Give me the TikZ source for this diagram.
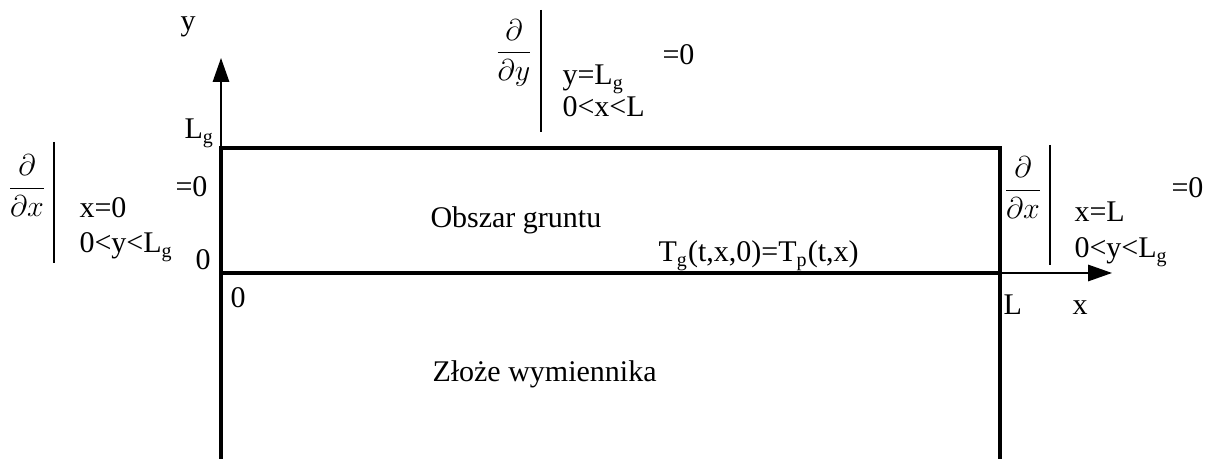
\documentclass[tikz,border=0pt]{standalone}
\usepackage{fontspec}
\setmainfont{Liberation Serif}
\usepackage{tikz}
\usetikzlibrary{arrows.meta}

\begin{document}
\begin{tikzpicture}[
  x=0.4pt,
  y=0.4pt,
  every node/.style={inner sep=0pt, font=\fontsize{12}{14}\selectfont},
  lab/.style={anchor=base west},
  deriv/.style={font=\fontsize{13}{16}\selectfont},
  wall/.style={line width=1.6pt},
  axis/.style={line width=0.6pt, -{Triangle[length=9.6pt, width=6.6pt]}},
  bar/.style={line width=0.8pt},
]
\path[use as bounding box] (0,0) rectangle (1205,459);

% Corners of the region.
\coordinate (O)   at (221,186);
\coordinate (Lg)  at (221,311);
\coordinate (LLg) at (1000,311);
\coordinate (L)   at (1000,186);
\coordinate (Ob)  at (221,0);
\coordinate (Lb)  at (1000,0);
\coordinate (ytip) at (221,401);
\coordinate (xtip) at (1112,186);

% Walls.
\draw[wall] (Ob) -- (Lg) -- (LLg) -- (Lb);
\draw[wall] (O) -- (L);

% Axes.
\draw[axis] (Lg) -- (ytip);
\draw[axis] (L) -- (xtip);
\node[lab] (ylab) at (180,428) {y};
\node[lab] (xlab) at (1072,144) {x};
\node[lab] (Lglab) at (184,320) {L\textsubscript{g}};
\node[lab] (zeroy) at (195,189) {0};
\node[lab] (zerox) at (230,151) {0};
\node[lab] (Llab) at (1003,144) {L};

% Regions.
\node[lab] (grunt) at (430,231) {Obszar gruntu};
\node[lab] (zloze) at (432,77) {Złoże wymiennika};
\node[lab] (cond) at (658,197) {T\textsubscript{g}(t,x,0)=T\textsubscript{p}(t,x)};

% Left boundary.
\node[deriv] (dleft) at (27,273) {$\displaystyle\frac{\partial}{\partial x}$};
\draw[bar] (54,317) -- (54,196);
\node[lab] (xzero) at (79,241) {x=0};
\node[lab] (yrange) at (79,206) {0<y<L\textsubscript{g}};
\node[lab] (eqleft) at (175,262) {=0};

% Top boundary.
\node[deriv] (dtop) at (514,406) {$\displaystyle\frac{\partial}{\partial y}$};
\draw[bar] (541,449) -- (541,327);
\node[lab] (ylg) at (562,374) {y=L\textsubscript{g}};
\node[lab] (xrange) at (562,342) {0<x<L};
\node[lab] (eqtop) at (662,394) {=0};

% Right boundary.
\node[deriv] (dright) at (1023,271) {$\displaystyle\frac{\partial}{\partial x}$};
\draw[bar] (1050,314) -- (1050,194);
\node[lab] (xl) at (1074,237) {x=L};
\node[lab] (yrange2) at (1074,201) {0<y<L\textsubscript{g}};
\node[lab] (eqright) at (1171,261) {=0};

\end{tikzpicture}
\end{document}
